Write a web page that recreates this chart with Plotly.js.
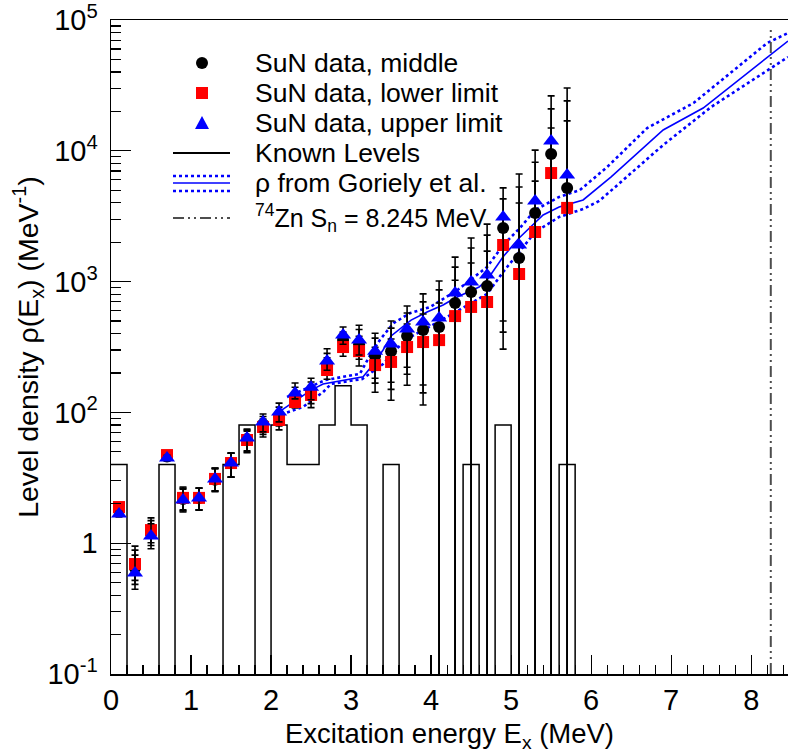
<!DOCTYPE html>
<html>
<head>
<meta charset="utf-8">
<script src="https://cdn.plot.ly/plotly-3.0.1.min.js"></script>
<style>html,body{margin:0;padding:0;overflow:hidden;background:#fff}</style>
</head>
<body>
<div id="chart" style="width:788px;height:754px"></div>
<script>
// ---------------- data ----------------
const energy = [0.1,0.3,0.5,0.7,0.9,1.1,1.3,1.5,1.7,1.9,2.1,2.3,2.5,2.7,2.9,3.1,3.3,3.5,3.7,3.9,4.1,4.3,4.5,4.7,4.9,5.1,5.3,5.5,5.7];
const rhoMiddle = [17.9,6.46,12.0,46.0,21.8,22.1,30.5,41,62.6,80.8,93.8,131,146,228,357,331,270,294,384,427,450,686,832,925,2570,1514,3340,9460,5200];
const rhoLower  = [18.9,6.93,12.6,47.2,22.2,22.2,31.0,41,61.5,77.3,87.5,120,136,211,316,294,230,243,316,345,357,545,640,698,1905,1143,2393,6760,3660];
const rhoUpper  = [16.7,5.92,11.35,44.8,21.4,22.2,31.0,41,63.7,84.5,100.7,141,156,247,391,357,294,333,434,491,527,818,993,1122,3120,1905,4130,11890,6530];
// relative uncertainties (fraction of value), 1 = down to zero
const relErrHigh = [0.05,0.37,0.24,0.05,0.21,0.19,0.21,0.19,0.17,0.15,0.17,0.19,0.17,0.24,0.15,0.30,0.37,0.50,0.50,0.64,0.92,0.88,1.17,1.45,0.67,2.49,1.45,1.21,3.63];
const relErrLow  = [0.05,0.25,0.20,0.05,0.19,0.19,0.19,0.22,0.20,0.16,0.16,0.10,0.20,0.15,0.15,0.23,0.38,0.49,0.49,0.67,1,1,1,1,0.84,1,1,1,1];

// known levels histogram (0.2 MeV bins starting at 0)
const levelBinLow = [0,0.2,0.4,0.6,0.8,1.0,1.2,1.4,1.6,1.8,2.0,2.2,2.4,2.6,2.8,3.0,3.2,3.4,3.6,3.8,4.0,4.2,4.4,4.6,4.8,5.0,5.2,5.4,5.6];
const knownLevels = [40,0,0,40,0,0,0,40,80,0,80,40,40,80,160,80,0,40,0,0,0,0,40,0,80,0,0,0,40];
const levelBinEnd = 5.8;

// Goriely et al. level density and its band
const gorielyE   = [2.1,2.5,2.65,3.15,3.25,3.4,3.5,3.75,3.95,4.15,4.3,4.6,4.7,4.9,5.1,5.4,5.6,5.9,6.25,6.9,7.4,8.24,8.46];
const gorielyRho = [101,148,165,187,222,300,384,508,586,662,750,910,1028,1550,2153,3228,3715,4207,6310,14430,21240,53950,69050];
const gorielyHiE   = [2.2,2.68,3.11,3.24,3.36,3.53,3.74,3.99,4.33,4.7,4.9,5.11,5.3,5.6,5.86,6.2,6.7,7.28,8.2,8.46];
const gorielyHiRho = [131,177,197,275,358,482,575,640,863,1294,1900,2570,3525,4436,5012,7516,14930,23190,66700,79550];
const gorielyLoE   = [2.2,2.4,2.65,2.75,3.14,3.4,3.55,3.74,4.0,4.3,4.7,4.9,5.1,5.3,5.6,5.9,6.1,6.9,7.5,8.24,8.46];
const gorielyLoRho = [100,110,143,165,180,234,300,377,458,586,804,1183,1683,2393,3118,3590,4130,11070,21630,42950,52120];

const neutronSep = 8.245;  // 74Zn S_n (MeV)
const snRhoRange = [1, 90000];

const yTickVals = [1,10,100,1000,10000,100000];
const yTickText = ['10<sup>-1</sup>','1','10<sup>2</sup>','10<sup>3</sup>','10<sup>4</sup>','10<sup>5</sup>'];
const xTickVals = [0,1,2,3,4,5,6,7,8];

const legTexts = ['SuN data, middle', 'SuN data, lower limit', 'SuN data, upper limit', 'Known Levels',
                  '\u03c1 from Goriely et al.', '<sup>74</sup>Zn S<sub>n</sub> = 8.245 MeV'];

// ---------------- build ----------------
const FONT = 'Liberation Sans, Arial, Helvetica, sans-serif';
const W = 788, H = 754, ML = 111, MR = 0, MT = 20, MB = 80;
const pw = W - ML - MR, ph = H - MT - MB;
const px = v => (v - ML) / pw;
const py = v => (H - MB - v) / ph;

// histogram as step line (log axis: empty bins drawn below the frame)
const histX = levelBinLow.concat([levelBinEnd]);
const histY = knownLevels.concat([0]).map(v => v > 0 ? v : 1e-3);

const errTrace = (vals) => ({
  type: 'data', symmetric: false,
  array: vals.map((v, i) => v * relErrHigh[i]),
  arrayminus: vals.map((v, i) => v * relErrLow[i]),
  color: '#000', thickness: 1.6, width: 3.5
});

const SN_DASH = '11px,4px,2px,4px,2px,4px';
const traces = [
  {x: histX, y: histY, mode: 'lines', line: {shape: 'hv', color: '#000', width: 1.5}, hoverinfo: 'skip'},
  {x: gorielyHiE, y: gorielyHiRho, mode: 'lines', line: {color: '#0000ff', width: 2.6, dash: 'dot'}},
  {x: gorielyLoE, y: gorielyLoRho, mode: 'lines', line: {color: '#0000ff', width: 2.6, dash: 'dot'}},
  {x: gorielyE, y: gorielyRho, mode: 'lines', line: {color: '#0000ff', width: 1.6}},
  {x: [neutronSep, neutronSep], y: snRhoRange, mode: 'lines', line: {color: '#4d4d4d', width: 2, dash: SN_DASH}},
  {x: energy, y: rhoMiddle, mode: 'markers', marker: {symbol: 'circle', size: 12, color: '#000'}, error_y: errTrace(rhoMiddle)},
  {x: energy, y: rhoLower, mode: 'markers', marker: {symbol: 'square', size: 12, color: '#ff0000'}, error_y: errTrace(rhoLower)},
  {x: energy, y: rhoUpper, mode: 'markers', marker: {symbol: 'triangle-up', size: 14, color: '#0000ff'}, error_y: errTrace(rhoUpper)}
];

// minor ticks for log axis
const yMinor = [];
for (let d = 1; d < 100000; d *= 10) for (let k = 2; k <= 9; k++) yMinor.push(k * d);

// ---------------- legend (manual, ROOT style) ----------------
const legRows = [63, 93, 123, 153, 183, 218];
const legSizes = [26.5, 26.5, 26.5, 26.5, 26.5, 25];
const symX = 202, lineX0 = 173, lineX1 = 230, textX = 253;
const hline = (yy, color, width, dash) => ({type: 'line', xref: 'paper', yref: 'paper',
  x0: px(lineX0), x1: px(lineX1), y0: py(yy), y1: py(yy), line: {color, width, dash: dash || 'solid'}});
const shapes = [
  {type: 'circle', xref: 'paper', yref: 'paper', x0: px(symX - 6), x1: px(symX + 6), y0: py(legRows[0] + 6), y1: py(legRows[0] - 6), fillcolor: '#000', line: {width: 0}},
  {type: 'rect', xref: 'paper', yref: 'paper', x0: px(symX - 6), x1: px(symX + 6), y0: py(legRows[1] + 6), y1: py(legRows[1] - 6), fillcolor: '#ff0000', line: {width: 0}},
  {type: 'path', xref: 'paper', yref: 'paper',
   path: `M ${px(symX - 7)} ${py(legRows[2] + 6)} L ${px(symX + 7)} ${py(legRows[2] + 6)} L ${px(symX)} ${py(legRows[2] - 7)} Z`,
   fillcolor: '#0000ff', line: {width: 0}},
  hline(legRows[3], '#000', 2),
  hline(legRows[4] - 7, '#0000ff', 2.6, 'dot'),
  hline(legRows[4], '#0000ff', 1.6),
  hline(legRows[4] + 8, '#0000ff', 2.6, 'dot'),
  hline(legRows[5], '#4d4d4d', 2, SN_DASH)
];

const annotations = legTexts.map((t, i) => ({
  xref: 'paper', yref: 'paper', x: px(textX), y: py(legRows[i]), xanchor: 'left', yanchor: 'middle',
  text: t, showarrow: false, font: {family: FONT, size: legSizes[i], color: '#000'}
}));

const layout = {
  width: W, height: H,
  margin: {l: ML, r: MR, t: MT, b: MB, pad: 0},
  paper_bgcolor: '#fff', plot_bgcolor: '#fff',
  showlegend: false,
  font: {family: FONT, color: '#000'},
  xaxis: {
    range: [0, 8.46], showgrid: false, zeroline: false,
    showline: true, linecolor: '#000', linewidth: 1.5, mirror: true,
    ticks: 'inside', ticklen: 19, tickwidth: 1.2, tickcolor: '#000',
    tickmode: 'array', tickvals: xTickVals, ticklabeloverflow: 'allow',
    minor: {dtick: 0.2, tick0: 0, ticks: 'inside', ticklen: 9, tickwidth: 1.2, tickcolor: '#000', showgrid: false},
    tickfont: {family: FONT, size: 29},
    title: {text: 'Excitation energy E<sub>x</sub> (MeV)', font: {family: FONT, size: 27.5}, standoff: 8}
  },
  yaxis: {
    type: 'log', range: [0, 5], showgrid: false, zeroline: false,
    showline: true, linecolor: '#000', linewidth: 1.5,
    ticks: 'inside', ticklen: 20, tickwidth: 1.2, tickcolor: '#000',
    tickmode: 'array', tickvals: yTickVals, ticktext: yTickText,
    ticklabeloverflow: 'allow', ticklabelstandoff: 6,
    minor: {tickmode: 'array', tickvals: yMinor, ticks: 'inside', ticklen: 10, tickwidth: 1.2, tickcolor: '#000', showgrid: false},
    tickfont: {family: FONT, size: 29},
    title: {text: 'Level density \u03c1(E<sub>x</sub>) (MeV<sup>-1</sup>)', font: {family: FONT, size: 28.5}, standoff: 0}
  },
  shapes: shapes,
  annotations: annotations
};

Plotly.newPlot('chart', traces, layout, {staticPlot: true, displayModeBar: false});
</script>
</body>
</html>
